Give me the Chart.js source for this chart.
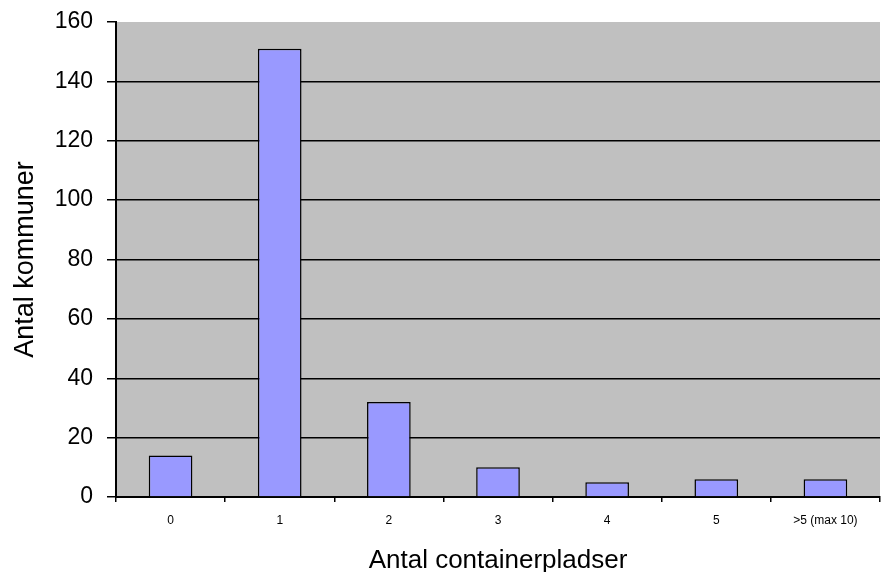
<!DOCTYPE html>
<html>
<head>
<meta charset="utf-8">
<script src="https://cdn.jsdelivr.net/npm/chart.js@4"></script>
<style>
html, body { margin: 0; padding: 0; background: #fff; }
#wrap { width: 881px; height: 572px; }
</style>
</head>
<body>
<div id="wrap"><canvas id="chart" width="881" height="572"></canvas></div>
<script>
const categories = ['0', '1', '2', '3', '4', '5', '>5 (max 10)'];
const kommuner = [14, 151, 32, 10, 5, 6, 6];
const y_ticks = [0, 20, 40, 60, 80, 100, 120, 140, 160];

const font_family = '"Liberation Sans", Arial, sans-serif';

const plot_bg = {
	id: 'plot_bg',
	beforeDraw(chart) {
		const a = chart.chartArea;
		const ctx = chart.ctx;
		ctx.save();
		ctx.fillStyle = '#c0c0c0';
		ctx.fillRect(a.left, a.top, a.right - a.left, a.bottom - a.top);
		ctx.restore();
	}
};

const ctx = document.getElementById('chart').getContext('2d');

new Chart(ctx, {
	type: 'bar',
	data: {
		labels: categories,
		datasets: [{
			label: 'Antal kommuner',
			data: kommuner,
			backgroundColor: '#9999ff',
			borderColor: '#000000',
			borderWidth: 1.5,
			barPercentage: 0.4,
			categoryPercentage: 1.0
		}]
	},
	options: {
		responsive: false,
		animation: false,
		layout: {
			padding: { top: 22, right: 1, left: 0, bottom: 0 }
		},
		plugins: {
			legend: { display: false },
			tooltip: { enabled: false }
		},
		scales: {
			x: {
				grid: {
					display: true,
					drawOnChartArea: false,
					drawTicks: true,
					tickLength: 5,
					lineWidth: 1.5,
					color: '#000000',
					offset: true
				},
				border: { color: '#000000', width: 2 },
				ticks: {
					color: '#000000',
					font: { family: font_family, size: 12 },
					padding: 11,
					maxRotation: 0,
					autoSkip: false
				},
				title: {
					display: true,
					text: 'Antal containerpladser',
					color: '#000000',
					font: { family: font_family, size: 26, lineHeight: 0.8 },
					padding: { top: 0, bottom: 1 }
				},
				afterFit(scale) { scale.height = 75; }
			},
			y: {
				min: 0,
				max: 160,
				afterBuildTicks(scale) {
					scale.ticks = y_ticks.map(v => ({ value: v }));
				},
				grid: {
					color: (c) => (c.tick && c.tick.value === 160) ? 'rgba(0,0,0,0)' : '#000000',
					lineWidth: 1.5,
					drawTicks: true,
					tickLength: 9,
					tickColor: '#000000'
				},
				border: { color: '#000000', width: 2 },
				ticks: {
					color: '#000000',
					font: { family: font_family, size: 23, lineHeight: 1 },
					padding: 14
				},
				title: {
					display: true,
					text: 'Antal kommuner',
					color: '#000000',
					font: { family: font_family, size: 27 },
					padding: { top: 9, bottom: 0 }
				},
				afterFit(scale) {
					scale.width = 116;
					scale.paddingTop = 0;
					scale.paddingBottom = 0;
				}
			}
		}
	},
	plugins: [plot_bg]
});
</script>
</body>
</html>
